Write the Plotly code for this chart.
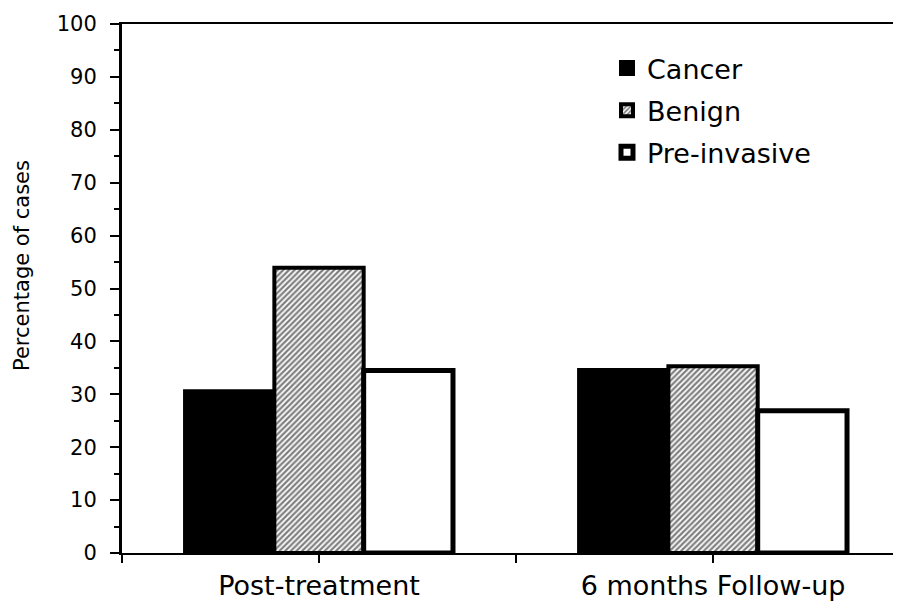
import plotly.graph_objects as go

categories = ["Post-treatment", "6 months Follow-up"]
cancer = [30.6, 34.6]
benign = [53.9, 35.3]
preinvasive = [34.5, 26.9]
y_ticks = list(range(0, 101, 10))

FONT = "DejaVu Sans"
x_pos = list(range(len(categories)))

# The page body has an 8px default margin; the figure is sized so it fits the window.
W, H = 893, 595
PL, PT, PB = 114, 16, 50
plot_w = W - PL
plot_h = H - PT - PB

fig = go.Figure()
fig.add_trace(go.Bar(
    x=x_pos, y=cancer, name="Cancer", legendgroup="c",
    marker=dict(color="black", line=dict(color="black", width=4)),
))
fig.add_trace(go.Bar(
    x=x_pos, y=benign, name="Benign", legendgroup="b",
    marker=dict(color="white", line=dict(color="black", width=4),
                pattern=dict(shape="/", fgcolor="black", bgcolor="white",
                             size=4, solidity=0.55, fillmode="overlay")),
))
fig.add_trace(go.Bar(
    x=x_pos, y=preinvasive, name="Pre-invasive", legendgroup="p",
    marker=dict(color="white", line=dict(color="black", width=5)),
))

fig.update_layout(
    width=W, height=H,
    margin=dict(l=PL, r=0, t=PT, b=PB),
    paper_bgcolor="white", plot_bgcolor="white",
    barmode="group", bargap=0.32, bargroupgap=0,
    font=dict(family=FONT, color="black"),
    showlegend=True,
    legend=dict(x=(599 - PL) / plot_w, xanchor="left",
                y=(PT + plot_h - 36) / plot_h, yanchor="top",
                font=dict(family=FONT, size=27, color="black"),
                bgcolor="rgba(0,0,0,0)", tracegroupgap=4,
                traceorder="grouped", itemwidth=30),
    xaxis=dict(
        range=[-0.5, 1.477], tickmode="array", tickvals=x_pos, ticktext=categories,
        showline=True, linecolor="black", linewidth=2, mirror=True,
        ticks="outside", ticklen=8, tickwidth=2, tickcolor="black",
        minor=dict(tickmode="array", tickvals=[-0.5, 0.5, 1.5], ticks="outside",
                   ticklen=8, tickwidth=2, tickcolor="black"),
        tickfont=dict(family=FONT, size=27, color="black"),
        showgrid=False, zeroline=False, fixedrange=True,
    ),
    yaxis=dict(
        range=[0, 100], tickmode="array", tickvals=y_ticks,
        showline=True, linecolor="black", linewidth=3, mirror=False,
        ticks="outside", ticklen=9, tickwidth=2, tickcolor="black",
        minor=dict(dtick=5, ticks="outside", ticklen=5, tickwidth=2, tickcolor="black"),
        tickfont=dict(family=FONT, size=21, color="black"),
        ticklabelstandoff=9,
        showgrid=False, zeroline=False,
    ),
    annotations=[dict(
        text="Percentage of cases", xref="paper", yref="paper",
        x=(14 - PL) / plot_w, y=(PT + plot_h - 258) / plot_h,
        xanchor="center", yanchor="middle",
        textangle=-90, showarrow=False,
        font=dict(family=FONT, size=21, color="black"),
    )],
)

fig.write_html("out.html")
